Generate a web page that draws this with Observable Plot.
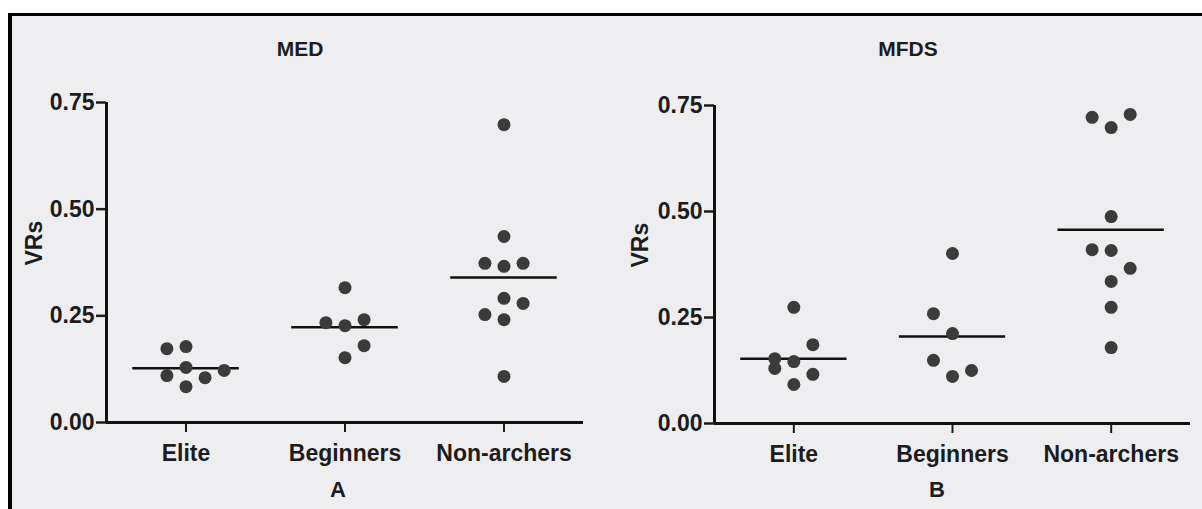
<!DOCTYPE html>
<html><head><meta charset="utf-8">
<script src="https://cdn.jsdelivr.net/npm/d3@7"></script>
<script src="https://cdn.jsdelivr.net/npm/@observablehq/plot@0.6"></script>
<style>
html,body{margin:0;padding:0;background:#fff;}
#page{position:relative;width:1202px;height:509px;overflow:hidden;}
#sheet{position:absolute;left:8px;top:13px;width:1194px;height:496px;border-left:4px solid #000;border-top:3px solid #000;background:#eeeef1;box-sizing:border-box;}
.lbl{position:absolute;font-family:"Liberation Sans",Arial,sans-serif;font-weight:bold;color:#1c1c1c;font-size:20px;transform:translate(-50%,-50%);white-space:nowrap;}
.panel{position:absolute;top:0;}
</style></head><body>
<div id="page"><div id="sheet"></div></div>
<script>
// ---- data ----
const groups = ["Elite", "Beginners", "Non-archers"];
const yTicks = [0, 0.25, 0.5, 0.75];
const panelTitles = ["MED", "MFDS"];
const panelLetters = ["A", "B"];
const yLabel = "VRs";

// MED (panel A)
const medElite = [0.178, 0.173, 0.129, 0.122, 0.110, 0.105, 0.084];
const medBeginners = [0.316, 0.241, 0.234, 0.227, 0.180, 0.152];
const medNonArchers = [0.698, 0.436, 0.373, 0.366, 0.373, 0.291, 0.279, 0.253, 0.241, 0.108];
const medLines = [0.127, 0.223, 0.340];
// column (swarm) index of each point within its group
const medEliteCol = [0, -1, 0, 2, -1, 1, 0];
const medBeginnersCol = [0, 1, -1, 0, 1, 0];
const medNonArchersCol = [0, 0, -1, 0, 1, 0, 1, -1, 0, 0];

// MFDS (panel B)
const mfdsElite = [0.274, 0.186, 0.153, 0.146, 0.130, 0.116, 0.092];
const mfdsBeginners = [0.401, 0.259, 0.212, 0.149, 0.125, 0.111];
const mfdsNonArchers = [0.729, 0.722, 0.698, 0.488, 0.410, 0.408, 0.366, 0.335, 0.274, 0.179];
const mfdsLines = [0.153, 0.205, 0.457];
const mfdsEliteCol = [0, 1, -1, 0, -1, 1, 0];
const mfdsBeginnersCol = [0, -1, 0, -1, 1, 0];
const mfdsNonArchersCol = [1, -1, 0, 0, -1, 0, 1, 0, 0, 0];

// ---- drawing ----
const colStep = 0.12;
const halfLine = 0.335;
const FONT = "Liberation Sans, Arial, sans-serif";

function panel(values, cols, lines, opts) {
  const pts = [];
  values.forEach((arr, i) => arr.forEach((v, j) => pts.push({x: i + cols[i][j] * colStep, v})));
  const bars = lines.map((v, i) => ({x1: i - halfLine, x2: i + halfLine, v}));
  return Plot.plot({
    width: opts.width, height: 509,
    marginLeft: opts.marginLeft, marginRight: opts.marginRight,
    marginTop: opts.marginTop, marginBottom: opts.marginBottom,
    style: {background: "transparent", fontFamily: FONT, fontSize: "23px", fontWeight: "bold", color: "#1c1c1c"},
    x: {domain: [-0.5, 2.5]},
    y: {domain: [0, 0.75]},
    marks: [
      Plot.axisY({ticks: yTicks, tickFormat: d3.format(".2f"), tickSize: 10, tickPadding: 2, strokeWidth: 2.5, label: null}),
      Plot.axisX({ticks: [0, 1, 2], tickFormat: i => groups[i], tickSize: 10, tickPadding: 12, strokeWidth: 2, label: null}),
      Plot.ruleX([-0.5], {y1: 0, y2: 0.75, strokeWidth: 3, stroke: "#111"}),
      Plot.ruleY([0], {x1: -0.5, x2: 2.5, strokeWidth: 3, stroke: "#111"}),
      Plot.ruleY(bars, {x1: "x1", x2: "x2", y: "v", strokeWidth: 2.5, stroke: "#111"}),
      Plot.dot(pts, {x: "x", y: "v", r: 6.5, fill: "#3b3b3b"}),
      Plot.text([yLabel], {frameAnchor: "left", rotate: -90, dx: opts.labelDx, dy: 3})
    ]
  });
}

const page = document.getElementById("page");
const left = panel([medElite, medBeginners, medNonArchers], [medEliteCol, medBeginnersCol, medNonArchersCol], medLines,
  {width: 600, marginLeft: 106, marginRight: 17, marginTop: 102, marginBottom: 87, labelDx: -72});
left.classList.add("panel"); left.style.left = "0px";
page.appendChild(left);

const right = panel([mfdsElite, mfdsBeginners, mfdsNonArchers], [mfdsEliteCol, mfdsBeginnersCol, mfdsNonArchersCol], mfdsLines,
  {width: 602, marginLeft: 114, marginRight: 12, marginTop: 105, marginBottom: 86, labelDx: -74});
right.classList.add("panel"); right.style.left = "600px";
page.appendChild(right);

function label(text, x, y, size) {
  const d = document.createElement("div");
  d.className = "lbl"; d.textContent = text;
  d.style.left = x + "px"; d.style.top = y + "px";
  d.style.fontSize = size + "px";
  page.appendChild(d);
}
label(panelTitles[0], 300, 49, 21);
label(panelTitles[1], 908, 49, 21);
label(panelLetters[0], 338, 490, 22);
label(panelLetters[1], 937, 490, 22);
</script>
</body></html>
